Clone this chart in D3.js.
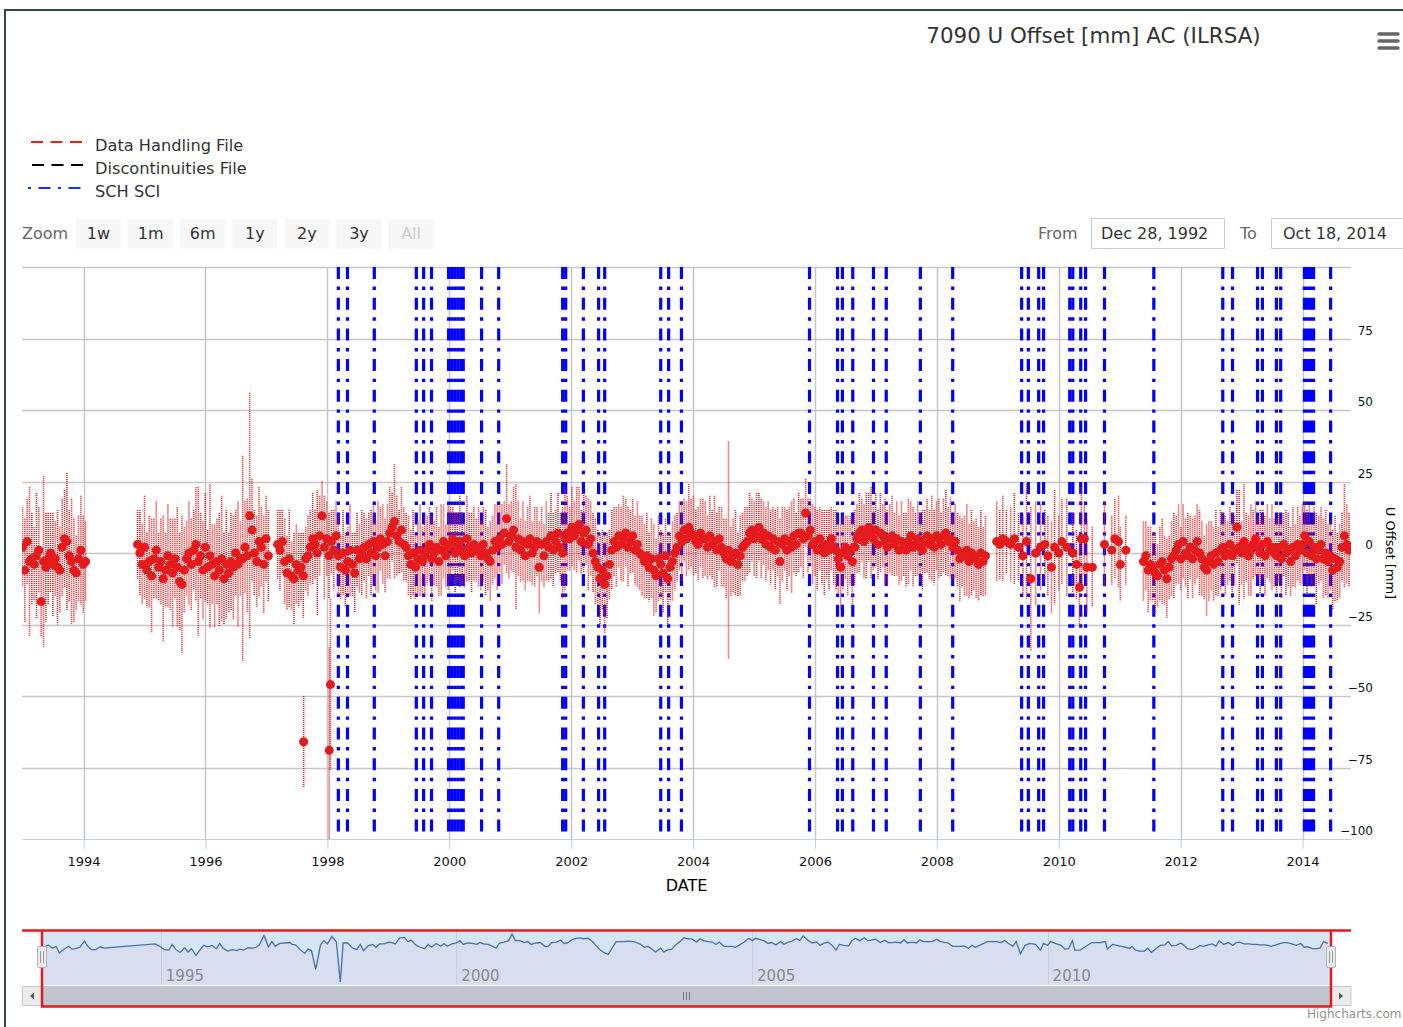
<!DOCTYPE html>
<html>
<head>
<meta charset="utf-8">
<title>7090 U Offset [mm] AC (ILRSA)</title>
<script src="https://cdnjs.cloudflare.com/ajax/libs/d3/7.8.5/d3.min.js"></script>
<style>
  html, body { margin: 0; padding: 0; background: #fff; }
  svg { display: block; font-family: "Lucida Grande", "DejaVu Sans", Arial, sans-serif; }
</style>
</head>
<body>
<svg id="chart" width="1403" height="1027"></svg>
<script>
'use strict';

// ---------- data ----------
var titleText = '7090 U Offset [mm] AC (ILRSA)';
var rangeStart = '1992-12-28', rangeEnd = '2014-10-18';
var yTicks = [-100, -75, -50, -25, 0, 25, 50, 75, 100];
var navTicks = [1995, 2000, 2005, 2010];
var zoomButtons = ['1w', '1m', '6m', '1y', '2y', '3y', 'All'];
var legendItems = ['Data Handling File', 'Discontinuities File', 'SCH SCI'];

// SCH SCI epochs (decimal years)
var schSci = [1998.18, 1998.33, 1998.77, 1999.46, 1999.58, 1999.71, 1999.99, 2000.04, 2000.09,
  2000.14, 2000.19, 2000.23, 2000.53, 2000.81, 2001.86, 2001.91, 2002.20, 2002.45, 2002.55,
  2003.47, 2003.60, 2003.81, 2005.91, 2006.37, 2006.45, 2006.62, 2006.96, 2007.17, 2007.73,
  2008.26, 2009.39, 2009.50, 2009.67, 2009.75, 2010.18, 2010.23, 2010.36, 2010.44, 2010.75,
  2011.56, 2012.69, 2012.85, 2013.26, 2013.34, 2013.57, 2013.64, 2014.03, 2014.08, 2014.13,
  2014.18, 2014.46];

// U offsets [mm] with error half-width, one value every 14 days from the start epoch
var seg1Start = 1992.997;
var seg1Values = [2, -6, 4, -3, -2, -4, -1, 1, -17, -3, -5, -2, 0, -4, -2, -5, -6, 2, 5, 4,
  -1, -3, -6, -7, -2, 1, -4, -3];
var seg1Errors = [14, 18, 15, 26, 16, 13, 22, 15, 12, 30, 19, 16, 14, 18, 13, 20, 15, 17, 17, 24,
  16, 22, 18, 13, 15, 19, 17, 14];

var seg2Start = 1994.886;
var seg2Values = [3, 0, -4, 2, -6, -3, -8, -2, 1, -5, -3, -9, -6, -1, -4, -7, -2, -5, -10, -11,
  -6, -2, 0, -4, 1, 3, -3, -1, -6, 2, -5, -1, -4, -8, -3, -6, -2, -9, -4, -7,
  -3, -5, 0, -4, -2, -2, 2, -1, 13, 8, 0, -3, 4, 2, -4, 5, -1];
var seg2Errors = [12, 15, 14, 18, 13, 16, 20, 14, 17, 12, 15, 22, 13, 18, 16, 19, 14, 21, 17, 24,
  15, 13, 18, 16, 14, 20, 26, 15, 17, 19, 13, 25, 14, 18, 15, 20, 22, 16, 19, 14,
  17, 18, 15, 22, 13, 36, 16, 20, 43, 18, 15, 16, 19, 14, 17, 15, 16];

var seg3Start = 1997.183;
var seg3Values = [3, 1, 4, -3, -7, -2, -8, -9, -4, -6, -5, -8, -2, -1,
  2, 5, 3, 0, 6, 13, 2, 5, -1, 4, 1, 6, -1, -5, 0, -6, -3, 1, -4, -7, 1, -2, 0,
  2, -2, 3, 0, 4, -1, 2, 5, 3, -1, 4, 7, 9, 11, 6, 4, 8, 3, 2,
  -1, -4, 0, -5, -2, 1, -3, -1, 1, 3, -2, 0, 2, -3, 1, 4, -1, 2,
  3, 5, 0, 2, 4, 1, -1, 5, 2, 0, 3, 1, 2, -1, 3, 0, -2, -3, 1, 4, 2,
  5, 3, 7, 12, 4, 6, 8, 2, 5, 1, 4, -1, 3, 5, 0, 2, 4, -5, 3, -1, 4,
  2, 6, 1, 4, 7, 2, 0, 5, 7, 5, 9, 6, 8, 10, 4, 7, 8, 3, 5, 0,
  -3, -5, -9, -6, -11, -8, -4, 1, 4, 2, 6, 3, 5, 7, 2, 4, 6, 1, 3, 0, -1,
  -3, -1, -5, -2, -6, -8, -2, -4, -7, -1, -9, -5, -3, 0, 2,
  6, 4, 8, 5, 9, 7, 6, 4, 3, 7, 5, 5, 2, 6, 3, 4, 1, 5, 2, 0,
  -2, 1, -3, -1, 0, -4, -1, 2, 3, 4, 7, 8, 5, 6, 9, 5, 7, 3, 6,
  2, 5, 1, 4, -3, 3, 5, 1, 4, 2, 6, 3, 7, 7, 5, 14, 6, 8, 3,
  4, 1, 5, 2, 0, 3, 1, 5, 2, 1, -2, -5, 0, 2, -1, 1, -3, 2,
  5, 7, 8, 4, 6, 9, 7, 5, 8, 3, 7, 6, 4, 2, 5, 6,
  3, 5, 1, 4, 3, 1, 4, 6, 2, 3, 5, 2, 1, 4, 6, 3, 5, 2,
  6, 5, 3, 6, 7, 4, 5, 2, 4, 1, -2, 0, -1, 1, -3, 0, -1, -2, -4, 0, -3, -1];
var seg3Errors = [12, 14, 11, 15, 13, 17, 12, 16, 14, 13, 12, 15, 11, 14,
  13, 16, 12, 22, 14, 12, 18, 13, 15, 11, 14, 12, 14, 11, 15, 13, 12, 16, 11, 14, 13, 12, 15,
  12, 14, 11, 15, 13, 12, 16, 11, 14, 13, 13, 16, 12, 20, 14, 11, 15, 13, 12,
  14, 12, 15, 11, 13, 16, 12, 14, 12, 13, 15, 11, 14, 12, 16, 13, 11, 15,
  13, 11, 14, 12, 16, 13, 11, 15, 12, 14, 13, 11, 14, 12, 13, 15, 11, 14, 12, 13, 15,
  12, 14, 11, 19, 13, 12, 15, 22, 13, 11, 14, 12, 13, 15, 11, 14, 12, 16, 13, 11, 14,
  12, 15, 13, 11, 14, 12, 16, 18, 13, 11, 14, 12, 15, 13, 11, 14, 12, 16, 13, 14,
  15, 13, 16, 14, 17, 15, 12, 14, 12, 14, 11, 13, 15, 12, 14, 11, 13, 12, 15, 13, 14,
  13, 15, 12, 14, 16, 13, 15, 12, 14, 13, 16, 12, 14, 13, 12,
  12, 14, 11, 13, 15, 12, 14, 11, 13, 12, 14, 13, 11, 14, 12, 16, 13, 11, 14, 12,
  14, 38, 12, 13, 15, 11, 14, 12, 13, 12, 14, 11, 13, 15, 12, 14, 11, 13, 12,
  13, 11, 14, 12, 15, 13, 11, 14, 12, 16, 13, 11, 14, 12, 14, 12, 13, 11, 14,
  12, 14, 11, 13, 15, 12, 14, 11, 13, 14, 12, 15, 13, 11, 14, 12, 15, 13,
  12, 14, 11, 13, 15, 12, 16, 11, 13, 12, 14, 11, 15, 13, 12, 14,
  11, 13, 12, 14, 11, 13, 15, 12, 14, 11, 13, 12, 14, 11, 13, 12, 15, 13,
  12, 14, 11, 13, 15, 12, 14, 11, 13, 13, 15, 12, 14, 16, 13, 15, 12, 14, 13, 15, 12, 14];

// sparse epochs 2009-2011 (decimal years)
var seg4Dates = [2008.98, 2009.03, 2009.08, 2009.14, 2009.21, 2009.27, 2009.34, 2009.41, 2009.47,
  2009.54, 2009.62, 2009.70, 2009.77, 2009.82, 2009.88, 2009.93, 2010.00, 2010.05, 2010.13,
  2010.23, 2010.29, 2010.34, 2010.37, 2010.42, 2010.46, 2010.55, 2010.75, 2010.87, 2010.92,
  2010.98, 2011.01, 2011.10];
var seg4Values = [4, 3, 5, 4, 3, 5, 2, -1, 4, -9, 0, 2, 3, -1, -5, 2, 0, 4, 2, 0, -4, -12, 5, 5,
  -5, -5, 3, 1, 5, 4, -4, 1];
var seg4Errors = [14, 12, 15, 11, 13, 16, 12, 14, 20, 25, 18, 15, 12, 14, 16, 20, 13, 15, 17, 14,
  12, 14, 18, 13, 16, 14, 15, 12, 14, 16, 13, 12];

var seg5Start = 2011.39;
var seg5Values = [-3, -1, -6, -4, -5, -7, -8, -4, -3, -6, -9, -5, -2, -1,
  1, 3, -2, 4, 0, -1, 2, -2, 1, 4, 0, -2, -5, -6, -3, -1, -4, 0, -3, 1,
  2, -1, 0, 3, -1, 1, 9, 2, 0, 4, 2, -1, 1, 3, 5, 2, 0, 3, -1, 4, 1, 2, 0,
  -1, 2, -2, 3, 0, 1, -3, 2, -1, 3, 1, 3, 6, 0, 4, -1, 2, -2, 1, 3, -2, 0,
  -3, -1, -6, -2, -5, -3, 2, 6, 3, 1];
var seg5Errors = [14, 12, 15, 13, 12, 14, 11, 13, 15, 12, 14, 11, 13, 15,
  12, 14, 11, 13, 12, 15, 11, 14, 12, 13, 15, 13, 11, 16, 14, 12, 13, 15, 12, 14,
  12, 14, 11, 13, 15, 12, 13, 20, 11, 20, 12, 14, 16, 12, 13, 11, 15, 12, 14, 13, 11, 15, 12,
  13, 12, 14, 11, 15, 13, 12, 14, 11, 13, 12, 14, 12, 15, 13, 11, 14, 16, 12, 13, 14, 15,
  13, 12, 14, 15, 12, 13, 12, 18, 14, 13];

// isolated outliers
var outlierDates = [1997.61, 1998.03, 1998.05];
var outlierValues = [-66, -69, -46];
var outlierErrors = [16, 36, 30];

// ---------- helpers ----------
var DAY = 864e5;
var decYear = function(v) {
	var yr = Math.floor(v);
	var s = Date.UTC(yr, 0, 1), e = Date.UTC(yr + 1, 0, 1);
	return new Date(s + (v - yr) * (e - s));
};

var points = [];
var addSeries = function(start, values, errors) {
	var t0 = decYear(start).getTime();
	values.forEach(function(v, i) {
		points.push({ date: new Date(t0 + i * 14 * DAY), value: v, err: errors[i] || 12 });
	});
};
var addList = function(dates, values, errors) {
	dates.forEach(function(d, i) {
		points.push({ date: decYear(d), value: values[i], err: errors[i] || 12 });
	});
};
addSeries(seg1Start, seg1Values, seg1Errors);
addSeries(seg2Start, seg2Values, seg2Errors);
addSeries(seg3Start, seg3Values, seg3Errors);
addList(seg4Dates, seg4Values, seg4Errors);
addSeries(seg5Start, seg5Values, seg5Errors);
addList(outlierDates, outlierValues, outlierErrors);
points.sort(function(a, b) { return a.date - b.date; });

// ---------- layout ----------
var svg = d3.select('#chart');
var plot = { left: 22, right: 1351, top: 267, bottom: 839 };
var parseDay = d3.utcParse('%Y-%m-%d');
var xStart = parseDay(rangeStart), xEnd = parseDay(rangeEnd);

var x = d3.scaleUtc().domain([xStart, xEnd]).range([plot.left, plot.right]);
var y = d3.scaleLinear().domain([yTicks[0], yTicks[yTicks.length - 1]]).range([plot.bottom, plot.top]);

// frame
svg.append('path')
	.attr('d', 'M5,1027V10H1403')
	.attr('fill', 'none').attr('stroke', '#2d4a3c').attr('stroke-width', 2);

// title + menu
svg.append('text')
	.attr('x', 1093.5).attr('y', 43)
	.attr('text-anchor', 'middle').attr('font-size', 21.4).attr('fill', '#333')
	.text(titleText);
[34, 41, 48].forEach(function(my) {
	svg.append('line').attr('x1', 1379).attr('x2', 1398).attr('y1', my).attr('y2', my)
		.attr('stroke', '#666').attr('stroke-width', 3.5).attr('stroke-linecap', 'round');
});

// legend
var legendStyle = [
	{ color: '#ff1a10', dash: '12,7.5', x1: 31, x2: 83 },
	{ color: '#000000', dash: '12,7.5', x1: 32, x2: 85 },
	{ color: '#1030ff', dash: '3,7.5,12,7.5', x1: 28, x2: 81 }
];
var legend = svg.append('g').selectAll('g').data(legendItems).enter().append('g')
	.attr('transform', function(d, i) { return 'translate(0,' + (142 + i * 23) + ')'; });
legend.append('line')
	.attr('x1', function(d, i) { return legendStyle[i].x1; })
	.attr('x2', function(d, i) { return legendStyle[i].x2; })
	.attr('stroke', function(d, i) { return legendStyle[i].color; })
	.attr('stroke-dasharray', function(d, i) { return legendStyle[i].dash; })
	.attr('stroke-width', 2);
legend.append('text')
	.attr('x', 95).attr('y', 8.5)
	.attr('font-size', 16.2).attr('fill', '#333')
	.text(function(d) { return d; });

// range selector
svg.append('text').attr('x', 22).attr('y', 239).attr('font-size', 16).attr('fill', '#666').text('Zoom');
var btn = svg.append('g').selectAll('g').data(zoomButtons).enter().append('g')
	.attr('transform', function(d, i) { return 'translate(' + (76 + i * 52.1) + ',219)'; });
btn.append('rect').attr('width', 45).attr('height', 30).attr('fill', '#f7f7f7');
btn.append('text')
	.attr('x', 22.5).attr('y', 20).attr('text-anchor', 'middle').attr('font-size', 16)
	.attr('fill', function(d) { return d === 'All' ? '#cccccc' : '#333'; })
	.text(function(d) { return d; });

var fmtInput = d3.utcFormat('%b %-d, %Y');
svg.append('text').attr('x', 1038).attr('y', 239).attr('font-size', 16).attr('fill', '#666').text('From');
svg.append('rect').attr('x', 1091.5).attr('y', 218.5).attr('width', 133).attr('height', 30)
	.attr('fill', '#fff').attr('stroke', '#cccccc');
svg.append('text').attr('x', 1101).attr('y', 239).attr('font-size', 16).attr('fill', '#333').text(fmtInput(xStart));
svg.append('text').attr('x', 1240).attr('y', 239).attr('font-size', 16).attr('fill', '#666').text('To');
svg.append('rect').attr('x', 1271.5).attr('y', 218.5).attr('width', 140).attr('height', 30)
	.attr('fill', '#fff').attr('stroke', '#cccccc');
svg.append('text').attr('x', 1283).attr('y', 239).attr('font-size', 16).attr('fill', '#333').text(fmtInput(xEnd));

// ---------- main plot ----------
svg.append('defs').append('clipPath').attr('id', 'plotClip')
	.append('rect').attr('x', plot.left).attr('y', plot.top)
	.attr('width', plot.right - plot.left).attr('height', plot.bottom - plot.top);

var yearTicks = x.ticks(d3.utcYear.every(2));

var grid = svg.append('g');
grid.selectAll('line.h').data(yTicks.slice(1)).enter().append('line')
	.attr('x1', plot.left).attr('x2', plot.right)
	.attr('y1', function(d) { return Math.round(y(d)) + 0.5; })
	.attr('y2', function(d) { return Math.round(y(d)) + 0.5; })
	.attr('stroke', '#c6c6c6').attr('stroke-width', 1.5);
grid.selectAll('line.v').data(yearTicks).enter().append('line')
	.attr('x1', function(d) { return Math.round(x(d)) + 0.5; })
	.attr('x2', function(d) { return Math.round(x(d)) + 0.5; })
	.attr('y1', plot.top).attr('y2', plot.bottom)
	.attr('stroke', '#c6c6c6').attr('stroke-width', 1.5);

// SCH SCI plot lines
svg.append('g').selectAll('line').data(schSci).enter().append('line')
	.attr('x1', function(d) { return x(decYear(d)); })
	.attr('x2', function(d) { return x(decYear(d)); })
	.attr('y1', plot.top).attr('y2', plot.bottom)
	.attr('stroke', '#0000ff').attr('stroke-width', 3.2)
	.attr('stroke-dasharray', '12,7.6,3.4,7.7');

// error bars and points
var series = svg.append('g').attr('clip-path', 'url(#plotClip)');
series.selectAll('line').data(points).enter().append('line')
	.attr('x1', function(d) { return x(d.date); })
	.attr('x2', function(d) { return x(d.date); })
	.attr('y1', function(d) { return y(d.value + d.err); })
	.attr('y2', function(d) { return y(d.value - d.err); })
	.attr('stroke', '#e41a1c').attr('stroke-width', 1.6)
	.attr('stroke-dasharray', '1,1');
series.selectAll('circle').data(points).enter().append('circle')
	.attr('cx', function(d) { return x(d.date); })
	.attr('cy', function(d) { return y(d.value); })
	.attr('r', 4.5).attr('fill', '#e41a1c');

// x axis
var gx = svg.append('g').attr('transform', 'translate(0,' + plot.bottom + ')')
	.call(d3.axisBottom(x).tickValues(yearTicks).tickFormat(d3.utcFormat('%Y'))
		.tickSize(10).tickSizeOuter(0).tickPadding(8));
gx.attr('font-size', 13).attr('font-family', null);
gx.select('.domain').attr('stroke', '#c0d0e0');
gx.selectAll('.tick line').attr('stroke', '#c0d0e0');
gx.selectAll('.tick text').attr('fill', '#111');
svg.append('text').attr('x', 686.5).attr('y', 891).attr('text-anchor', 'middle')
	.attr('font-size', 16).attr('fill', '#000').text('DATE');

// y axis (opposite)
var gy = svg.append('g').attr('transform', 'translate(1373,0)')
	.call(d3.axisRight(y).tickValues(yTicks.slice(0, -1)).tickSize(0));
gy.attr('font-size', 12).attr('font-family', null);
gy.select('.domain').remove();
gy.selectAll('.tick text').attr('x', 0).attr('dy', null).attr('y', -4.5)
	.attr('text-anchor', 'end').attr('fill', '#111');
svg.append('text').attr('transform', 'translate(1386,553) rotate(90)')
	.attr('text-anchor', 'middle').attr('font-size', 13).attr('fill', '#000')
	.text('U Offset [mm]');

// ---------- navigator ----------
var nav = { left: 42, right: 1331, top: 932, bottom: 985 };
var navX = d3.scaleUtc().domain([xStart, xEnd]).range([nav.left, nav.right]);
var grouped = d3.rollups(points, function(g) {
	return { date: new Date(d3.mean(g, function(d) { return +d.date; })), value: d3.mean(g, function(d) { return d.value; }) };
}, function(d) { return Math.floor((navX(d.date) - nav.left) / 4); })
	.map(function(d) { return d[1]; })
	.sort(function(a, b) { return a.date - b.date; });
var navY = d3.scaleLinear().domain(d3.extent(grouped, function(d) { return d.value; }))
	.range([nav.bottom - 3, nav.top + 2]);

svg.append('rect').attr('x', nav.left).attr('y', nav.top)
	.attr('width', nav.right - nav.left).attr('height', nav.bottom - nav.top).attr('fill', '#d6e6f7');
svg.append('path').datum(grouped)
	.attr('d', d3.area().x(function(d) { return navX(d.date); }).y0(nav.bottom).y1(function(d) { return navY(d.value); }))
	.attr('fill', '#d8deef');
svg.append('g').selectAll('line').data(navTicks).enter().append('line')
	.attr('x1', function(d) { return Math.round(navX(Date.UTC(d, 0, 1))) + 0.5; })
	.attr('x2', function(d) { return Math.round(navX(Date.UTC(d, 0, 1))) + 0.5; })
	.attr('y1', nav.top).attr('y2', nav.bottom)
	.attr('stroke', '#c4cfe2').attr('stroke-width', 1);
svg.append('path').datum(grouped)
	.attr('d', d3.line().x(function(d) { return navX(d.date); }).y(function(d) { return navY(d.value); }))
	.attr('fill', 'none').attr('stroke', '#4572a7').attr('stroke-width', 1.3);
svg.append('g').selectAll('text').data(navTicks).enter().append('text')
	.attr('x', function(d) { return navX(Date.UTC(d, 0, 1)) + 5; })
	.attr('y', 981).attr('font-size', 15).attr('fill', '#888')
	.text(function(d) { return d; });

// scrollbar
svg.append('rect').attr('x', nav.left).attr('y', 986).attr('width', nav.right - nav.left).attr('height', 20)
	.attr('fill', '#bfc6cf');
[[plot.left, -1], [nav.right, 1]].forEach(function(b) {
	svg.append('rect').attr('x', b[0] + 0.5).attr('y', 986.5).attr('width', 19.5).attr('height', 19)
		.attr('fill', '#ebebeb').attr('stroke', '#c8c8c8');
	var cx = b[0] + 10;
	svg.append('path')
		.attr('d', 'M' + (cx - 2 * b[1]) + ',992.5L' + (cx + 2 * b[1]) + ',996L' + (cx - 2 * b[1]) + ',999.5Z')
		.attr('fill', '#555');
});
[683, 686, 689].forEach(function(gxp) {
	svg.append('line').attr('x1', gxp + 0.5).attr('x2', gxp + 0.5).attr('y1', 992).attr('y2', 1000)
		.attr('stroke', '#777').attr('stroke-width', 1);
});

// outline
svg.append('path')
	.attr('d', 'M' + plot.left + ',930.5H' + plot.right + 'M' + nav.left + ',930V1006.5H' + nav.right + 'V930')
	.attr('fill', 'none').attr('stroke', '#e41a1c').attr('stroke-width', 2.5);

// handles
[nav.left, nav.right].forEach(function(hx) {
	svg.append('rect').attr('x', hx - 4.5).attr('y', 946.5).attr('width', 9).attr('height', 21).attr('rx', 1.5)
		.attr('fill', '#ebebeb').attr('stroke', '#b2b1b6');
	[-1.5, 1.5].forEach(function(o) {
		svg.append('line').attr('x1', hx + o).attr('x2', hx + o).attr('y1', 951).attr('y2', 963)
			.attr('stroke', '#999').attr('stroke-width', 1);
	});
});

// credits
svg.append('text').attr('x', 1307).attr('y', 1018).attr('font-size', 12).attr('fill', '#909090')
	.text('Highcharts.com');
</script>
</body>
</html>
